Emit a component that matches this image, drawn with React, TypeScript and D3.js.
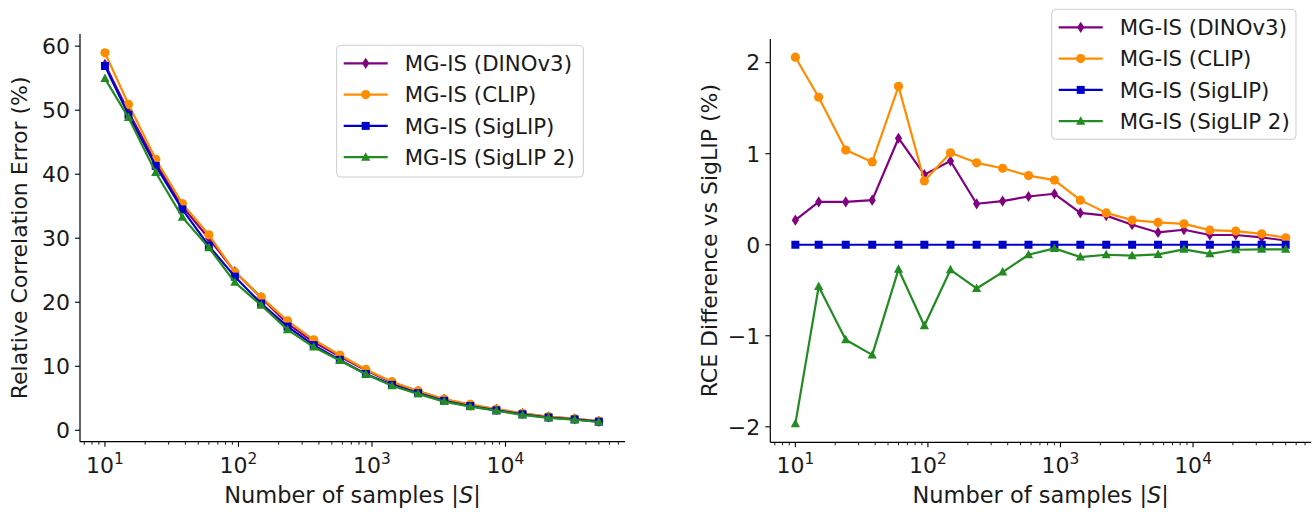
import * as d3 from "d3";

// sample counts (x axis, log scale)
const samples = [10, 15, 24, 38, 60, 94, 148, 233, 366, 574, 900, 1412, 2214, 3472, 5446, 8541, 13395, 21008, 32948, 50000];

// left panel: relative correlation error (%)
const rceDino = [57.17, 49.77, 41.77, 34.99, 29.97, 24.77, 20.72, 16.65, 13.78, 11.53, 9.36, 7.45, 6.12, 4.82, 3.94, 3.27, 2.61, 2.11, 1.78, 1.40];
const rceClip = [58.96, 50.92, 42.34, 35.41, 30.54, 24.70, 20.81, 17.10, 14.14, 11.76, 9.51, 7.59, 6.15, 4.87, 4.05, 3.33, 2.66, 2.15, 1.82, 1.43];
const rceSiglip = [56.9, 49.3, 41.3, 34.5, 28.8, 24.0, 19.8, 16.2, 13.3, 11.0, 8.8, 7.1, 5.8, 4.6, 3.8, 3.1, 2.5, 2.0, 1.7, 1.35];
const rceSiglip2 = [54.93, 48.84, 40.26, 33.29, 28.53, 23.11, 19.53, 15.72, 13.00, 10.89, 8.76, 6.97, 5.69, 4.48, 3.69, 3.05, 2.40, 1.95, 1.65, 1.30];

// right panel: difference vs SigLIP (%)
const diffDino = [0.27, 0.47, 0.47, 0.49, 1.17, 0.77, 0.92, 0.45, 0.48, 0.53, 0.56, 0.35, 0.32, 0.22, 0.135, 0.165, 0.107, 0.107, 0.08, 0.047];
const diffClip = [2.06, 1.62, 1.04, 0.91, 1.74, 0.70, 1.01, 0.90, 0.84, 0.76, 0.71, 0.49, 0.35, 0.27, 0.245, 0.23, 0.16, 0.15, 0.12, 0.077];
const diffSiglip = [0, 0, 0, 0, 0, 0, 0, 0, 0, 0, 0, 0, 0, 0, 0, 0, 0, 0, 0, 0];
const diffSiglip2 = [-1.967, -0.458, -1.044, -1.21, -0.27, -0.89, -0.275, -0.48, -0.30, -0.11, -0.04, -0.135, -0.11, -0.12, -0.106, -0.05, -0.1, -0.055, -0.05, -0.05];

const seriesNames = ["MG-IS (DINOv3)", "MG-IS (CLIP)", "MG-IS (SigLIP)", "MG-IS (SigLIP 2)"];
const seriesColors = ["#800080", "#ff8c00", "#0000cd", "#228b22"];
const seriesMarkers = ["thin_diamond", "circle", "square", "triangle"];

const leftTicks = [0, 10, 20, 30, 40, 50, 60];
const rightTicks = [-2, -1, 0, 1, 2];
const decades = [1, 2, 3, 4];

const font = "DejaVu Sans, sans-serif";

function markerPath(kind: string) {
  if (kind === "circle") return d3.symbol(d3.symbolCircle, Math.PI * 4.6 * 4.6)() as string;
  if (kind === "square") return "M-4,-4H4V4H-4Z";
  if (kind === "triangle") return "M0,-5L4.6,3.5L-4.6,3.5Z";
  return "M0,-5.6L3.6,0L0,5.6L-3.6,0Z";
}

type PanelProps = {
  x0: number; x1: number; top: number; bottom: number;
  xDomain: [number, number]; yDomain: [number, number];
  data: number[][]; yTicks: number[]; yLabel: string;
  legend: { x: number; y: number; w: number; h: number };
};

function Panel({ x0, x1, top, bottom, xDomain, yDomain, data, yTicks, yLabel, legend }: PanelProps) {
  const x = d3.scaleLog().domain(xDomain).range([x0, x1]);
  const y = d3.scaleLinear().domain(yDomain).range([bottom, top]);
  const line = d3.line<number>().x((_, i) => x(samples[i])).y(d => y(d));

  const minor: number[] = [];
  for (let d = 0; d <= 4; d++) {
    for (let k = 2; k <= 9; k++) {
      const v = k * 10 ** d;
      if (v >= xDomain[0] && v <= xDomain[1]) minor.push(v);
    }
  }

  const fmt = (v: number) => (v < 0 ? "\u2212" + Math.abs(v) : String(v));

  return (
    <g>
      {/* lines + markers */}
      {data.map((vals, s) => (
        <g key={s}>
          <path d={line(vals) as string} fill="none" stroke={seriesColors[s]} strokeWidth={2.2} strokeLinejoin="round" />
          {vals.map((v, i) => (
            <path key={i} d={markerPath(seriesMarkers[s])} transform={`translate(${x(samples[i])},${y(v)})`} fill={seriesColors[s]} />
          ))}
        </g>
      ))}

      {/* spines */}
      <line x1={x0} x2={x0} y1={top} y2={bottom} stroke="black" strokeWidth={1.2} />
      <line x1={x0} x2={x1} y1={bottom} y2={bottom} stroke="black" strokeWidth={1.2} />

      {/* y ticks */}
      {yTicks.map(t => (
        <g key={t}>
          <line x1={x0 - 5} x2={x0} y1={y(t)} y2={y(t)} stroke="black" strokeWidth={1.1} />
          <text x={x0 - 10} y={y(t) + 7.8} textAnchor="end" fontSize={22} fontFamily={font} fill="#1a1a1a">{fmt(t)}</text>
        </g>
      ))}

      {/* x ticks */}
      {minor.map(v => (
        <line key={v} x1={x(v)} x2={x(v)} y1={bottom} y2={bottom + 3} stroke="black" strokeWidth={0.9} />
      ))}
      {decades.map(d => (
        <g key={d}>
          <line x1={x(10 ** d)} x2={x(10 ** d)} y1={bottom} y2={bottom + 5} stroke="black" strokeWidth={1.1} />
          <text x={x(10 ** d)} y={bottom + 31} textAnchor="middle" fontSize={22} fontFamily={font} fill="#1a1a1a">
            10<tspan fontSize={15.4} dy={-9}>{d}</tspan>
          </text>
        </g>
      ))}

      {/* axis labels */}
      <text x={(x0 + x1) / 2} y={bottom + 61} textAnchor="middle" fontSize={22.5} fontFamily={font} fill="#1a1a1a">
        Number of samples |<tspan fontStyle="italic">S</tspan>|
      </text>
      <text transform={`translate(${x0 - 53},${(top + bottom) / 2}) rotate(-90)`} textAnchor="middle" fontSize={22} fontFamily={font} fill="#1a1a1a">
        {yLabel}
      </text>

      {/* legend */}
      <g transform={`translate(${legend.x},${legend.y})`}>
        <rect width={legend.w} height={legend.h} rx={4} fill="white" fillOpacity={0.8} stroke="#cccccc" strokeWidth={1} />
        {seriesNames.map((name, s) => {
          const ly = 18 + 31.3 * s;
          return (
            <g key={name}>
              <line x1={7} x2={51} y1={ly} y2={ly} stroke={seriesColors[s]} strokeWidth={2.2} />
              <path d={markerPath(seriesMarkers[s])} transform={`translate(29,${ly})`} fill={seriesColors[s]} />
              <text x={68} y={ly + 7.8} fontSize={21.3} fontFamily={font} fill="#1a1a1a">{name}</text>
            </g>
          );
        })}
      </g>
    </g>
  );
}

export default function App() {
  return (
    <svg width={1314} height={512} style={{ position: "absolute", left: 0, top: 0, background: "white" }}>
      <Panel
        x0={80} x1={625} top={34} bottom={441.7}
        xDomain={[10 ** 0.813, 10 ** 4.895]} yDomain={[-1.78, 61.9]}
        data={[rceDino, rceClip, rceSiglip, rceSiglip2]}
        yTicks={leftTicks} yLabel="Relative Correlation Error (%)"
        legend={{ x: 336.7, y: 45.3, w: 246.6, h: 131.7 }}
      />
      <Panel
        x0={770.3} x1={1311} top={39} bottom={442.3}
        xDomain={[10 ** 0.811, 10 ** 4.89]} yDomain={[-2.17, 2.26]}
        data={[diffDino, diffClip, diffSiglip, diffSiglip2]}
        yTicks={rightTicks} yLabel="RCE Difference vs SigLIP (%)"
        legend={{ x: 1051.7, y: 9.3, w: 244.3, h: 130 }}
      />
    </svg>
  );
}
